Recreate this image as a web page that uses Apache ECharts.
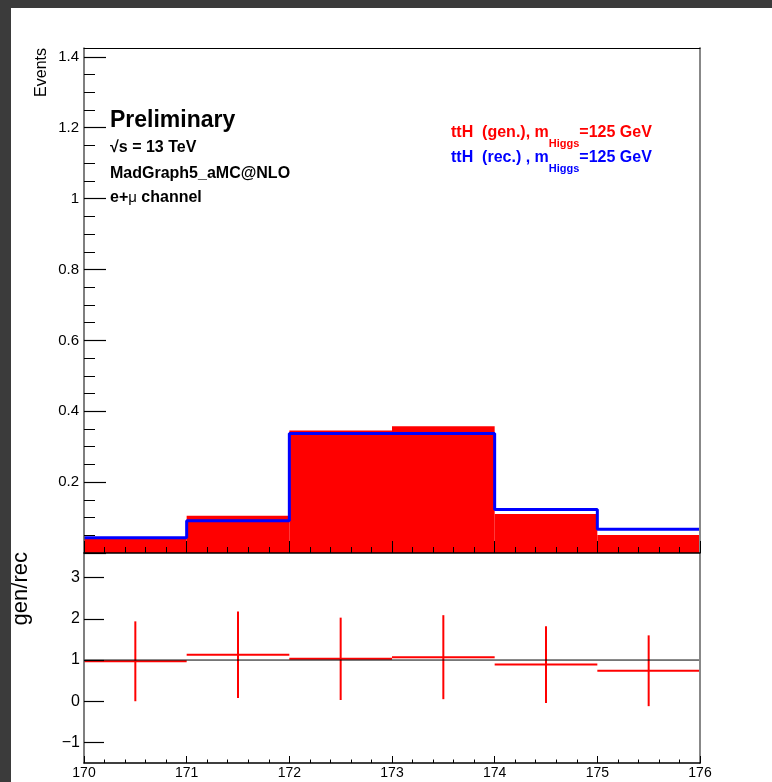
<!DOCTYPE html>
<html><head><meta charset="utf-8">
<script src="https://cdn.jsdelivr.net/npm/echarts@6/dist/echarts.min.js"></script>
<style>
html,body{margin:0;padding:0;background:#3b3b3b;overflow:hidden;}
#bg{position:absolute;left:11px;top:8px;width:761px;height:774px;background:#fff;}
#chart{position:absolute;left:0;top:0;width:772px;height:782px;}
</style></head><body>
<div id="bg"></div><div id="chart"></div>
<script>
// ---- data ----
const binEdges = [170, 171, 172, 173, 174, 175, 176];
const genValues = [0.041, 0.105, 0.346, 0.358, 0.110, 0.051];
const recValues = [0.043, 0.091, 0.337, 0.337, 0.123, 0.067];
const ratioValues = [0.97, 1.13, 1.03, 1.07, 0.89, 0.74];
const ratioErrors = [0.97, 1.05, 1.00, 1.02, 0.93, 0.86];
const upperYTicks = [0, 0.2, 0.4, 0.6, 0.8, 1, 1.2, 1.4];
const upperYLabels = [0.2, 0.4, 0.6, 0.8, 1, 1.2, 1.4];
const upperYMinorTicks = [0.05, 0.1, 0.15, 0.25, 0.3, 0.35, 0.45, 0.5, 0.55, 0.65, 0.7, 0.75,
  0.85, 0.9, 0.95, 1.05, 1.1, 1.15, 1.25, 1.3, 1.35];
const ratioYTicks = [-1, 0, 1, 2, 3];

const FF = '"Liberation Sans", Arial, Helvetica, sans-serif';
const X_MIN = 170, X_MAX = 176;
const UP_MAX = 1.425, LO_MIN = -1.5, LO_MAX = 3.6;

const fillData = genValues.map((v, i) => [binEdges[i], binEdges[i + 1], v]);
const stepData = recValues.map((v, i) => [binEdges[i], v]);
stepData.push([binEdges[binEdges.length - 1], recValues[recValues.length - 1]]);
const ratioData = ratioValues.map((v, i) => [binEdges[i], binEdges[i + 1], v, ratioErrors[i]]);

const fmt = v => String(+(+v).toFixed(2)).replace('-', '\u2212');

const chart = echarts.init(document.getElementById('chart'), null, {renderer: 'canvas'});
chart.setOption({
  animation: false,
  backgroundColor: 'transparent',
  grid: [
    {left: 84, top: 48, width: 616, height: 505, containLabel: false},
    {left: 84, top: 553, width: 616, height: 210, containLabel: false}
  ],
  xAxis: [
    {gridIndex: 0, type: 'value', min: X_MIN, max: X_MAX, interval: 1, position: 'bottom', z: 6,
     axisLine: {show: true, onZero: false, lineStyle: {color: '#000', width: 1.5}},
     axisTick: {show: true, inside: true, length: 12, lineStyle: {color: '#000', width: 1}},
     minorTick: {show: true, splitNumber: 5, length: 6, lineStyle: {color: '#000', width: 1}},
     axisLabel: {show: false}, splitLine: {show: false}},
    {gridIndex: 0, type: 'value', min: X_MIN, max: X_MAX, interval: 1, position: 'top', z: 6,
     axisLine: {show: true, onZero: false, lineStyle: {color: '#000', width: 1}},
     axisTick: {show: false}, axisLabel: {show: false}, splitLine: {show: false}},
    {gridIndex: 1, type: 'value', min: X_MIN, max: X_MAX, interval: 1, position: 'bottom', z: 6,
     axisLine: {show: true, onZero: false, lineStyle: {color: '#000', width: 1.5}},
     axisTick: {show: true, inside: true, length: 7, lineStyle: {color: '#000', width: 1}},
     minorTick: {show: true, splitNumber: 5, length: 3.5, lineStyle: {color: '#000', width: 1}},
     axisLabel: {show: true, margin: 3, fontSize: 14, color: '#000', fontFamily: FF, formatter: fmt},
     splitLine: {show: false}}
  ],
  yAxis: [
    {gridIndex: 0, type: 'value', min: 0, max: UP_MAX, position: 'left', z: 6,
     axisLine: {show: true, onZero: false, lineStyle: {color: '#555', width: 1.5}},
     axisTick: {show: true, inside: true, length: 22, customValues: upperYTicks, lineStyle: {color: '#000', width: 1.2}},
     axisLabel: {show: true, customValues: upperYLabels, margin: 5, fontSize: 15, color: '#000', fontFamily: FF, formatter: fmt},
     splitLine: {show: false}},
    {gridIndex: 0, type: 'value', min: 0, max: UP_MAX, position: 'left', z: 6,
     axisLine: {show: false},
     axisTick: {show: true, inside: true, length: 11, customValues: upperYMinorTicks, lineStyle: {color: '#000', width: 1}},
     axisLabel: {show: false}, splitLine: {show: false}},
    {gridIndex: 0, type: 'value', min: 0, max: UP_MAX, position: 'right', z: 6,
     axisLine: {show: true, onZero: false, lineStyle: {color: '#888', width: 2}},
     axisTick: {show: false}, axisLabel: {show: false}, splitLine: {show: false}},
    {gridIndex: 1, type: 'value', min: LO_MIN, max: LO_MAX, position: 'left', z: 6,
     axisLine: {show: true, onZero: false, lineStyle: {color: '#555', width: 1.5}},
     axisTick: {show: true, inside: true, length: 20, customValues: ratioYTicks, lineStyle: {color: '#000', width: 1.2}},
     axisLabel: {show: true, customValues: ratioYTicks, margin: 4, fontSize: 16, color: '#000', fontFamily: FF, formatter: fmt},
     splitLine: {show: false}},
    {gridIndex: 1, type: 'value', min: LO_MIN, max: LO_MAX, position: 'right', z: 6,
     axisLine: {show: true, onZero: false, lineStyle: {color: '#888', width: 2}},
     axisTick: {show: false}, axisLabel: {show: false}, splitLine: {show: false}}
  ],
  series: [
    {type: 'custom', name: 'gen', xAxisIndex: 0, yAxisIndex: 0, data: fillData, z: 2,
     renderItem: (params, api) => {
       const p0 = api.coord([api.value(0), api.value(2)]);
       const p1 = api.coord([api.value(1), 0]);
       return {type: 'rect', shape: {x: p0[0], y: p0[1], width: p1[0] - p0[0], height: p1[1] - p0[1]},
               style: {fill: '#ff0000'}};
     }},
    {type: 'line', name: 'rec', xAxisIndex: 0, yAxisIndex: 0, data: stepData, step: 'end',
     symbol: 'none', z: 3, lineStyle: {color: '#0000ff', width: 3}},
    {type: 'custom', name: 'ratio', xAxisIndex: 2, yAxisIndex: 3, data: ratioData, z: 2,
     renderItem: (params, api) => {
       const x0 = api.value(0), x1 = api.value(1), v = api.value(2), e = api.value(3);
       const xc = (x0 + x1) / 2;
       const a = api.coord([x0, v]), b = api.coord([x1, v]);
       const c = api.coord([xc, v - e]), d = api.coord([xc, v + e]);
       const st = {stroke: '#ff0000', lineWidth: 2};
       return {type: 'group', children: [
         {type: 'line', shape: {x1: a[0], y1: a[1], x2: b[0], y2: b[1]}, style: st},
         {type: 'line', shape: {x1: c[0], y1: c[1], x2: d[0], y2: d[1]}, style: st}
       ]};
     }},
    {type: 'line', name: 'unity', xAxisIndex: 2, yAxisIndex: 3, data: [[X_MIN, 1], [X_MAX, 1]],
     symbol: 'none', z: 4, lineStyle: {color: '#000', width: 1}}
  ],
  graphic: [
    {type: 'text', x: 42, y: 48, rotation: Math.PI / 2, z: 10,
     style: {text: 'Events', fill: '#000', font: '16px ' + FF, textAlign: 'right', textVerticalAlign: 'middle'}},
    {type: 'text', x: 21, y: 552, rotation: Math.PI / 2, z: 10,
     style: {text: 'gen/rec', fill: '#000', font: '22px ' + FF, textAlign: 'right', textVerticalAlign: 'middle'}},
    {type: 'text', x: 110, y: 121, z: 10,
     style: {text: 'Preliminary', fill: '#000', font: 'bold 23px ' + FF, textAlign: 'left', textVerticalAlign: 'middle'}},
    {type: 'text', x: 110, y: 148, z: 10,
     style: {text: '\u221As = 13 TeV', fill: '#000', font: 'bold 16px ' + FF, textAlign: 'left', textVerticalAlign: 'middle'}},
    {type: 'text', x: 110, y: 174, z: 10,
     style: {text: 'MadGraph5_aMC@NLO', fill: '#000', font: 'bold 16px ' + FF, textAlign: 'left', textVerticalAlign: 'middle'}},
    {type: 'text', x: 110, y: 198, z: 10,
     style: {text: '{b|e+}{m|\u03BC}{b| channel}', textAlign: 'left', textVerticalAlign: 'middle',
       rich: {b: {fill: '#000', font: 'bold 16px ' + FF}, m: {fill: '#000', font: '15px ' + FF}}}},
    {type: 'text', x: 451, y: 125, z: 10,
     style: {text: '{a|ttH  (gen.), m}{s|Higgs}{a|=125 GeV}', textAlign: 'left', textVerticalAlign: 'top',
       rich: {a: {fill: '#ff0000', font: 'bold 16px ' + FF, lineHeight: 16, verticalAlign: 'top'},
              s: {fill: '#ff0000', font: 'bold 11px ' + FF, lineHeight: 11, verticalAlign: 'top', padding: [13, 0, 0, 0]}}}},
    {type: 'text', x: 451, y: 150, z: 10,
     style: {text: '{a|ttH  (rec.) , m}{s|Higgs}{a|=125 GeV}', textAlign: 'left', textVerticalAlign: 'top',
       rich: {a: {fill: '#0000ff', font: 'bold 16px ' + FF, lineHeight: 16, verticalAlign: 'top'},
              s: {fill: '#0000ff', font: 'bold 11px ' + FF, lineHeight: 11, verticalAlign: 'top', padding: [13, 0, 0, 0]}}}}
  ]
});
</script>
</body></html>
